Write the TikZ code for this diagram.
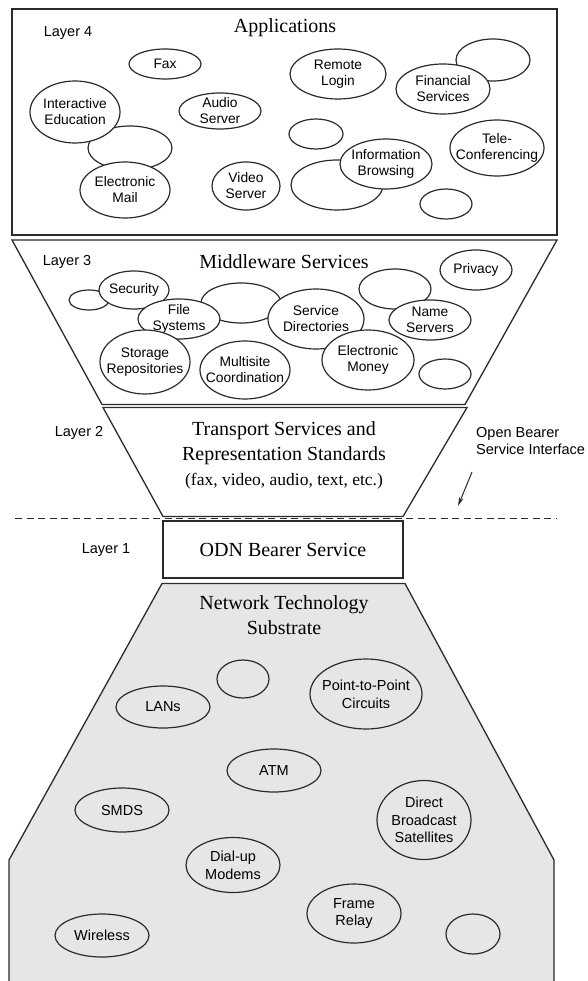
\documentclass[tikz,border=0pt]{standalone}
\usepackage{fontspec}
\setmainfont{Liberation Serif}
\setsansfont{Liberation Sans}
\usetikzlibrary{arrows.meta,shapes.geometric}
\definecolor{ink}{HTML}{2B2B2B}
\definecolor{subst}{HTML}{E6E6E6}

\begin{document}
\begin{tikzpicture}[x=1pt,y=-1pt,>={Stealth[length=9pt,width=4.5pt]},
 outline/.style={draw=ink,line width=1.3pt},
 blob/.style={ellipse,draw=ink,line width=1.2pt,inner sep=0pt,fill=white},
 netblob/.style={blob,fill=none},
 blobtxt/.style={align=center,inner sep=0pt,text=black,font=\sffamily\fontsize{13.8}{16}\selectfont},
 nettxt/.style={blobtxt,font=\sffamily\fontsize{14.5}{17.7}\selectfont},
 layer/.style={text=black,font=\sffamily\fontsize{14.5}{17}\selectfont},
 title/.style={align=center,text=black,font=\fontsize{20}{25}\selectfont}]
\useasboundingbox[fill=white] (0,0) rectangle (588,981);

% layer outlines
\draw[outline] (12,9) rectangle (557,235);
\draw[outline] (12,240) -- (557,240) -- (465,404.5) -- (102,404.5) -- cycle;
\draw[outline] (103,407.5) -- (467,407.5) -- (403,516.5) -- (163,516.5) -- cycle;
\draw[ink,line width=1pt,dash pattern=on 7pt off 4.5pt] (15,518.5) -- (557,518.5);
\draw[outline] (163,521) rectangle (403,578);
\fill[subst] (9,981) -- (9,860) -- (162,583.5) -- (405,583.5) -- (554,860) -- (554,981) -- cycle;
\draw[outline] (9,981) -- (9,860) -- (162,583.5) -- (405,583.5) -- (554,860) -- (554,981);

% titles and layer labels
\node[title] (apptitle) at (285,28) {Applications};
\node[layer] (lay4) at (68,33) {Layer 4};
\node[title] (midtitle) at (284,262) {Middleware Services};
\node[layer] (lay3) at (67,262) {Layer 3};
\node[title] (transtitle) at (284,455)
 {Transport Services and\\Representation Standards\\{\fontsize{17.5}{21}\selectfont(fax, video, audio, text, etc.)}};
\node[layer] (lay2) at (79,433) {Layer 2};
\node[title] (odntitle) at (283,550) {ODN Bearer Service};
\node[layer] (lay1) at (106,550) {Layer 1};
\node[title] (nettitle) at (284,615) {Network Technology\\Substrate};
\node[layer,align=left,anchor=west,inner sep=0pt] (iface) at (476,441.5) {Open Bearer\\Service Interface};
\coordinate (ifacetail) at (472,472);
\coordinate (ifacehead) at (458,506);
\draw[->,ink,line width=1pt] (ifacetail) -- (ifacehead);

% layer 4: applications
\foreach \n/\x/\y/\w/\h in {e4a/130/148/84/44,e4b/493/60/74/42,e4c/316/134/54/30,
 e4d/337/185/92/50,e4e/446/204/52/30}
 \node[blob,minimum width=\w,minimum height=\h] (\n) at (\x,\y) {};
\foreach \n/\x/\y/\w/\h/\t in {fax/165/64/72/30/Fax,
 iedu/75/112/90/62/{Interactive\\Education},email/125/190/90/56/{Electronic\\Mail},
 audio/220/111/82/36/{Audio\\Server},video/246/186/68/48/{Video\\Server},
 rlogin/338/74/96/50/{Remote\\Login},fin/443/89/94/50/{Financial\\Services},
 info/386/164/92/50/{Information\\Browsing},tele/497/148/94/56/{Tele-\\Conferencing}}
 {\node[blob,minimum width=\w,minimum height=\h] (\n) at (\x,\y) {};
 \node[blobtxt] (\n-t) at (\n) {\t};}

% layer 3: middleware
\foreach \n/\x/\y/\w/\h in {e3a/89/300/40/20,e3b/241/303/80/40,e3c/395/289/72/40,e3d/445/374/52/30}
 \node[blob,minimum width=\w,minimum height=\h] (\n) at (\x,\y) {};
\foreach \n/\x/\y/\w/\h/\t in {sec/134/290/70/38/Security,
 fsys/179/319/82/40/{File\\Systems},store/145/362/90/64/{Storage\\Repositories},
 multi/245/370/90/58/{Multisite\\Coordination},sdir/316/319/96/60/{Service\\Directories},
 emoney/368/360/92/60/{Electronic\\Money},names/430/320/82/40/{Name\\Servers},
 priv/476/270/72/40/Privacy}
 {\node[blob,minimum width=\w,minimum height=\h] (\n) at (\x,\y) {};
 \node[blobtxt] (\n-t) at (\n) {\t};}

% substrate
\foreach \n/\x/\y/\w/\h in {e1a/243/679/52/38,e1b/473/934/54/40}
 \node[netblob,minimum width=\w,minimum height=\h] (\n) at (\x,\y) {};
\foreach \n/\x/\y/\w/\h/\t in {lans/163/707/94/42/LANs,
 ptp/366/694/112/70/{Point-to-Point\\Circuits},atm/274/770.5/94/43/ATM,
 smds/122/810/94/44/SMDS,dbs/424/820/94/79/{Direct\\Broadcast\\Satellites},
 dial/233/865/94/55/{Dial-up\\Modems},frame/354/913.5/94/59/{Frame\\Relay},
 wless/102/935.5/94/43/Wireless}
 {\node[netblob,minimum width=\w,minimum height=\h] (\n) at (\x,\y) {};
 \node[nettxt] (\n-t) at (\n) {\t};}
\end{tikzpicture}
\end{document}
